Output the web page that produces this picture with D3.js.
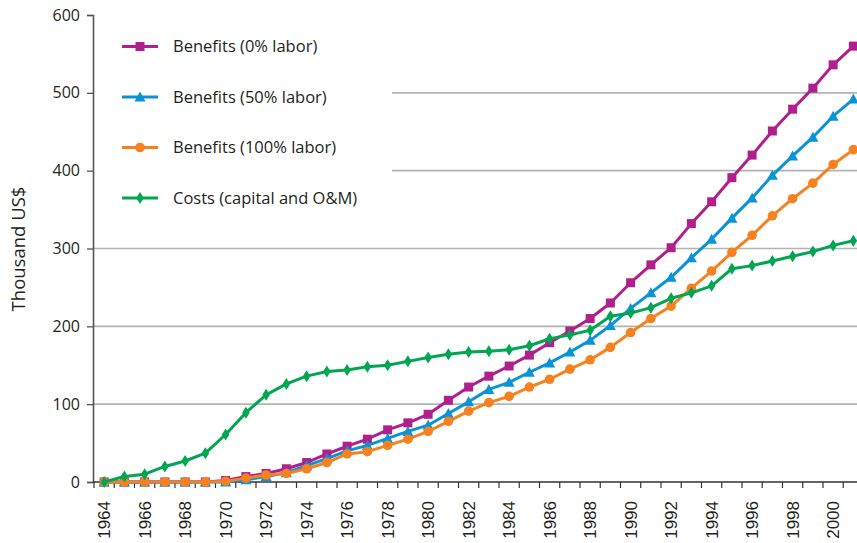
<!DOCTYPE html>
<html>
<head>
<meta charset="utf-8">
<script src="https://cdn.jsdelivr.net/npm/d3@7"></script>
<style>
  html, body { margin: 0; padding: 0; background: #fff; }
  svg { display: block; }
</style>
</head>
<body>
<div id="chart"></div>
<script>
const years = [1964,1965,1966,1967,1968,1969,1970,1971,1972,1973,1974,1975,1976,1977,1978,1979,1980,1981,1982,1983,1984,1985,1986,1987,1988,1989,1990,1991,1992,1993,1994,1995,1996,1997,1998,1999,2000,2001];
const tickYears = [1964,1966,1968,1970,1972,1974,1976,1978,1980,1982,1984,1986,1988,1990,1992,1994,1996,1998,2000];
const yTicks = [0,100,200,300,400,500,600];

const benefits0   = [0,0,0,0,0,0,2,7,11,17,25,36,46,55,67,76,87,105,122,136,149,163,179,194,210,230,256,279,301,332,360,391,420,451,479,506,536,560];
const benefits50  = [0,0,0,0,0,0,0,3,7,12,21,30,40,47,56,65,73,88,103,119,128,141,153,167,182,201,223,243,263,288,312,339,365,394,419,443,470,492];
const benefits100 = [0,0,0,0,0,0,1,5,9,11,17,25,36,39,47,55,65,78,91,102,110,122,132,145,157,173,192,210,226,249,271,295,317,342,364,384,408,427];
const costs       = [0,7,10,20,27,37,61,89,112,126,136,142,144,148,150,155,160,164,167,168,170,175,184,189,195,213,217,224,236,243,252,274,278,284,290,296,304,310];

const seriesNames = ["Benefits (0% labor)","Benefits (50% labor)","Benefits (100% labor)","Costs (capital and O&M)"];
const seriesColors = ["#B0208C","#0A93D8","#F5821F","#00A651"];
const seriesMarkers = ["square","triangle","circle","diamond"];
const seriesValues = [benefits0, benefits50, benefits100, costs];

const W = 857, H = 543;
const svg = d3.select("#chart").append("svg").attr("width", W).attr("height", H);

const x = d3.scaleBand().domain(years).range([94, 94 + 38 * 20.25]);
const y = d3.scaleLinear().domain([0, 600]).range([482, 15]);
const cx = d => x(d) + x.bandwidth() / 2;

// gridlines
svg.append("g").selectAll("line").data(yTicks.filter(t => t > 0 && t < 600)).join("line")
  .attr("x1", 93).attr("x2", W).attr("y1", d => y(d)).attr("y2", d => y(d))
  .attr("stroke", "#b3b3b3").attr("stroke-width", 1.6);

// legend background (covers gridlines)
svg.append("rect").attr("x", 94).attr("y", 18).attr("width", 298).attr("height", 200).attr("fill", "#fff");

// y axis
const yAxis = d3.axisLeft(y).tickValues(yTicks).tickSize(6).tickPadding(7).tickFormat(d3.format("d"));
const gy = svg.append("g").attr("transform", "translate(93,0)").call(yAxis);
gy.select(".domain").attr("stroke", "#555").attr("stroke-width", 1.6);
gy.selectAll(".tick line").attr("stroke", "#555").attr("stroke-width", 1.3);
gy.selectAll(".tick text").attr("font-family", "'Open Sans', sans-serif").attr("font-size", 16).attr("fill", "#231f20");

// x axis with ticks at category boundaries
const gx = svg.append("g").attr("transform", "translate(0,482)");
gx.append("line").attr("x1", 93).attr("x2", W).attr("y1", 0).attr("y2", 0).attr("stroke", "#333").attr("stroke-width", 1.6);
gx.selectAll(".bt").data(years).join("line").attr("class", "bt")
  .attr("x1", d => x(d)).attr("x2", d => x(d)).attr("y1", 0).attr("y2", 6)
  .attr("stroke", "#333").attr("stroke-width", 1.2);
gx.selectAll(".xl").data(tickYears).join("text").attr("class", "xl")
  .attr("transform", d => `translate(${cx(d) + 6},${19}) rotate(-90)`)
  .attr("text-anchor", "end")
  .attr("font-family", "'Liberation Sans', Arial, sans-serif").attr("font-size", 17).attr("fill", "#231f20")
  .text(d => d);

// y label
svg.append("text").attr("transform", "translate(25,249) rotate(-90)")
  .attr("text-anchor", "middle").attr("font-family", "'Open Sans', sans-serif").attr("font-size", 18.5).attr("fill", "#231f20")
  .text("Thousand US$");

// marker drawing
function marker(sel, type, color) {
  if (type === "square") {
    sel.append("rect").attr("x", -4.5).attr("y", -4.5).attr("width", 9).attr("height", 9).attr("fill", color);
  } else if (type === "triangle") {
    sel.append("path").attr("d", "M0,-5.5L5.5,4.5L-5.5,4.5Z").attr("fill", color);
  } else if (type === "circle") {
    sel.append("circle").attr("r", 4.8).attr("fill", color);
  } else {
    sel.append("path").attr("d", "M0,-6L3.8,0L0,6L-3.8,0Z").attr("fill", color);
  }
}

const line = d3.line().x((d, i) => cx(years[i])).y(d => y(d));

seriesValues.forEach((vals, s) => {
  const g = svg.append("g");
  g.append("path").datum(vals).attr("d", line).attr("fill", "none")
    .attr("stroke", seriesColors[s]).attr("stroke-width", 3).attr("stroke-linejoin", "round");
  vals.forEach((v, i) => {
    const m = g.append("g").attr("transform", `translate(${cx(years[i])},${y(v)})`);
    marker(m, seriesMarkers[s], seriesColors[s]);
  });
});

// legend
const lg = svg.append("g");
seriesNames.forEach((name, s) => {
  const ly = 46.5 + s * 50.5;
  lg.append("line").attr("x1", 122).attr("x2", 158).attr("y1", ly).attr("y2", ly)
    .attr("stroke", seriesColors[s]).attr("stroke-width", 3);
  marker(lg.append("g").attr("transform", `translate(140,${ly})`), seriesMarkers[s], seriesColors[s]);
  lg.append("text").attr("x", 173).attr("y", ly + 5.5).attr("font-family", "'Open Sans', sans-serif")
    .attr("font-size", 16.5).attr("fill", "#231f20").text(name);
});
</script>
</body>
</html>
